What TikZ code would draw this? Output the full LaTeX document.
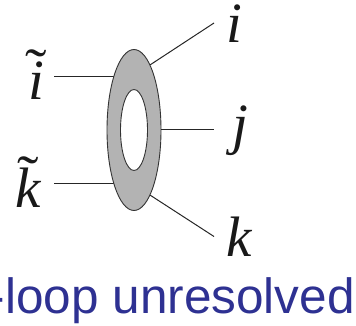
\documentclass[tikz,border=0pt]{standalone}
\usepackage{fontspec}
\setmainfont{Liberation Serif}
\newfontfamily\capfont{Liberation Sans}
\usetikzlibrary{shapes.geometric,backgrounds}
\definecolor{capblue}{HTML}{2E3192}
\definecolor{blobgray}{HTML}{B3B3B3}
\tikzset{
  x=1pt,y=-1pt,
  mathlabel/.style={inner sep=0pt,anchor=base,text=black!90,font=\fontsize{57}{60}\selectfont\itshape},
  tildemark/.style={inner sep=0pt,anchor=base,text=black!90,xscale=1.15,font=\fontsize{56}{60}\selectfont},
  caption/.style={inner sep=0pt,anchor=base east,text=capblue,font=\capfont\fontsize{49.5}{54}\selectfont},
  leg/.style={draw=black!85,line width=1pt},
  ring/.style={ellipse,draw=black!80,line width=0.9pt,inner sep=0pt,minimum width=#1}
}
\begin{document}
\begin{tikzpicture}
\useasboundingbox (0,0) rectangle (356,326);
\clip (0,0) rectangle (356,326);
\node[ring=54pt,fill=blobgray,minimum height=161pt] (outer) at (134,130) {};
\node[ring=27pt,fill=white,minimum height=81pt] (inner) at (134,130) {};
\node[mathlabel] (ti) at (36,100) {i};
\node[mathlabel] (tk) at (28,207) {k};
\node[tildemark] (ti2) at (36,88) {\char"02DC};
\node[tildemark] (tk2) at (28,194) {\char"02DC};
\node[mathlabel] (i) at (234,43) {i};
\node[mathlabel] (j) at (240,143) {j};
\node[mathlabel] (k) at (239,256) {k};
\node[caption] (cap) at (355,313) {-loop unresolved};
\coordinate (a) at (54,76.5);
\coordinate (b) at (54,183.5);
\coordinate (c) at (214,23);
\coordinate (d) at (214,130);
\coordinate (e) at (214,236.5);
\begin{scope}[on background layer]
\draw[leg] (a) -- (a -| outer.center);
\draw[leg] (b) -- (b -| outer.center);
\end{scope}
\draw[leg] (outer.76) -- (c);
\draw[leg] (outer.0) -- (d);
\draw[leg] (outer.284) -- (e);
\end{tikzpicture}
\end{document}
